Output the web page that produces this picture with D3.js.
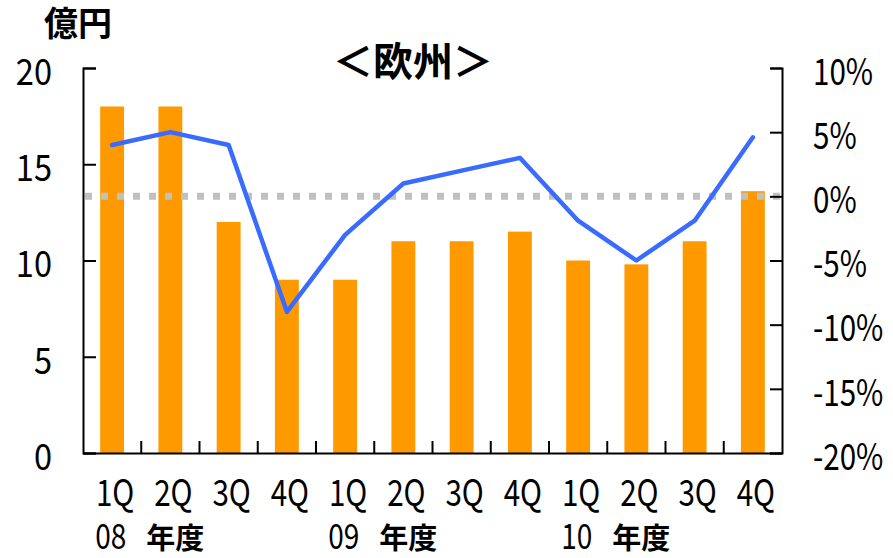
<!DOCTYPE html>
<html>
<head>
<meta charset="utf-8">
<script src="https://cdn.jsdelivr.net/npm/d3@7"></script>
<style>
  body { margin: 0; background: #fff; }
  text { font-family: "Noto Sans CJK JP", sans-serif; fill: #000; }
</style>
</head>
<body>
<svg id="chart" width="893" height="558"></svg>
<script>
// data
var quarters = ["1Q", "2Q", "3Q", "4Q", "1Q", "2Q", "3Q", "4Q", "1Q", "2Q", "3Q", "4Q"];
var fiscalYears = ["08", "09", "10"];
var sales = [18, 18, 12, 9, 9, 11, 11, 11.5, 10, 9.8, 11, 13.6];      // 億円 (bars)
var growth = [4, 5, 4, -9, -3, 1, 2, 3, -1.9, -5, -1.9, 4.6];          // % (line)
var leftTicks = [0, 5, 10, 15, 20];
var rightTicks = [-20, -15, -10, -5, 0, 5, 10];

var svg = d3.select("#chart");
var plotLeft = 83, plotRight = 782, plotTop = 68, plotBottom = 453;
var squeeze = 0.8;   // the reference digits are narrow, gothic-like
var squeezeL = 0.88;

var idx = quarters.map(function(d, i) { return i; });

var xScale = d3.scaleBand()
    .domain(idx)
    .range([plotLeft, plotRight])
    .paddingInner(0.59)
    .paddingOuter(0.295);

var xBand = d3.scaleBand()
    .domain(idx)
    .range([plotLeft, plotRight]);

var yLeft = d3.scaleLinear()
    .domain([0, 20])
    .range([plotBottom, plotTop]);

var yRight = d3.scaleLinear()
    .domain([-20, 10])
    .range([plotBottom, plotTop]);

// bars
svg.selectAll(".bar")
    .data(sales)
    .enter()
    .append("rect")
    .attr("class", "bar")
    .attr("x", function(d, i) { return xScale(i); })
    .attr("y", function(d) { return yLeft(d); })
    .attr("width", xScale.bandwidth())
    .attr("height", function(d) { return yLeft(0) - yLeft(d); })
    .style("fill", "#ff9900");

// zero line, dotted
svg.append("line")
    .attr("x1", plotLeft + 2)
    .attr("x2", plotRight + 2)
    .attr("y1", yRight(0))
    .attr("y2", yRight(0))
    .attr("stroke", "#c0c0c0")
    .attr("stroke-width", 7)
    .style("stroke-dasharray", "7 9");

// growth line
var line = d3.line()
    .x(function(d, i) { return xBand(i) + xBand.bandwidth() / 2; })
    .y(function(d) { return yRight(d); });

svg.append("path")
    .datum(growth)
    .attr("d", line)
    .attr("fill", "none")
    .attr("stroke", "#3a6bff")
    .attr("stroke-width", 4.5)
    .style("stroke-linejoin", "round")
    .style("stroke-linecap", "round");

// left axis
var yAxisL = svg.append("g")
    .attr("transform", "translate(" + plotLeft + ",0)")
    .call(d3.axisRight(yLeft).tickValues(leftTicks).tickSize(13).tickPadding(0));
yAxisL.selectAll("text")
    .attr("x", -31 / squeezeL)
    .attr("y", 3)
    .attr("dy", "0.36em")
    .attr("transform", "scale(" + squeezeL + ",1)")
    .style("text-anchor", "end")
    .style("font-size", "37px");

// right axis
var yAxisR = svg.append("g")
    .attr("transform", "translate(" + plotRight + ",0)")
    .call(d3.axisLeft(yRight).tickValues(rightTicks)
        .tickFormat(function(d) { return d + "%"; }).tickSize(12));
yAxisR.selectAll("text")
    .attr("x", 31 / squeeze)
    .attr("y", 3)
    .attr("dy", "0.36em")
    .attr("transform", "scale(" + squeeze + ",1)")
    .style("text-anchor", "start")
    .style("font-size", "37px");

// bottom axis, ticks between bars
svg.append("g")
    .attr("transform", "translate(0," + plotBottom + ")")
    .call(d3.axisTop(xBand).tickValues([]).tickSize(0).tickSizeOuter(0));
svg.selectAll(".xTicks")
    .data(idx.slice(1))
    .enter()
    .append("line")
    .attr("x1", function(d) { return xBand(d); })
    .attr("x2", function(d) { return xBand(d); })
    .attr("y1", plotBottom)
    .attr("y2", plotBottom - 12)
    .attr("stroke", "#000")
    .attr("stroke-width", 2);

svg.selectAll(".domain, .tick line")
    .attr("stroke", "#000")
    .attr("stroke-width", 2);

// quarter labels
svg.selectAll(".qLabel")
    .data(quarters)
    .enter()
    .append("text")
    .attr("transform", function(d, i) {
        return "translate(" + (xBand(i) + xBand.bandwidth() / 2 + 3) + ",506) scale(" + squeeze + ",1)";
    })
    .style("text-anchor", "middle")
    .style("font-size", "37px")
    .text(function(d) { return d; });

// fiscal year labels
var fy = svg.selectAll(".fyLabel")
    .data(fiscalYears)
    .enter()
    .append("g")
    .attr("transform", function(d, i) {
        return "translate(" + (xBand(i * 4) + xBand.bandwidth() / 2 - 17) + ",549)";
    });
fy.append("text")
    .attr("transform", "scale(" + squeeze + ",1)")
    .style("font-size", "35px")
    .text(function(d) { return d; });
fy.append("text")
    .attr("x", 51)
    .style("font-weight", "bold")
    .style("font-size", "29px")
    .text("年度");

// unit and title
svg.append("text")
    .attr("x", 44)
    .attr("y", 24)
    .attr("dy", "0.36em")
    .style("font-weight", "bold")
    .style("font-size", "34px")
    .text("億円");

svg.append("text")
    .attr("x", 413)
    .attr("y", 62)
    .attr("dy", "0.36em")
    .style("text-anchor", "middle")
    .style("font-weight", "bold")
    .style("font-size", "40px")
    .text("＜欧州＞");
</script>
</body>
</html>
